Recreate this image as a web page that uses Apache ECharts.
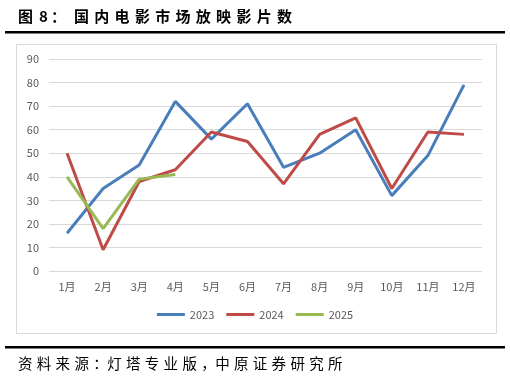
<!DOCTYPE html>
<html><head><meta charset="utf-8">
<script src="https://cdn.jsdelivr.net/npm/echarts@6/dist/echarts.min.js"></script>
<style>html,body{margin:0;padding:0;background:#fff}#c{width:510px;height:378px}</style>
</head><body><div id="c"></div>
<script>
const categories = ['1月','2月','3月','4月','5月','6月','7月','8月','9月','10月','11月','12月'];
const s2023 = [16, 35, 45, 72, 56, 71, 44, 50, 60, 32, 49, 79];
const s2024 = [50, 9, 38, 43, 59, 55, 37, 58, 65, 35, 59, 58];
const s2025 = [40, 18, 39, 41];
const seriesNames = ['2023', '2024', '2025'];
const titleText = '图 8：国内电影市场放映影片数';
const sourceText = '资料来源：灯塔专业版，中原证券研究所';

const CJK = '"Noto Sans CJK SC", "Noto Sans", sans-serif';
const graphics = [];
// border box
graphics.push({type:'rect', shape:{x:16.5,y:44.5,width:480,height:289}, style:{fill:'none', stroke:'#d9d9d9', lineWidth:1}, z:0});
// thick rules
graphics.push({type:'rect', shape:{x:5,y:31,width:500,height:2.5}, style:{fill:'#000'}});
graphics.push({type:'rect', shape:{x:5,y:346,width:500,height:2.5}, style:{fill:'#000'}});
(function(){
  // title glyphs, laid out with the reference's wide spacing
  const tChars = Array.from(titleText);
  let x = 18;
  tChars.forEach((ch) => {
    if (ch === ' ') { x += 6; return; }
    graphics.push({type:'text', x:x, y:16, style:{text:ch, font:'bold 15px ' + CJK, fill:'#000', textVerticalAlign:'middle', verticalAlign:'middle'}});
    if (ch === '8') x += 12; else if (ch === '：') x += 23; else if (ch === '图') x += 15; else x += 20.3;
  });
  // source glyphs
  const sChars = Array.from(sourceText);
  let sx = 18;
  sChars.forEach((ch) => {
    graphics.push({type:'text', x:sx, y:363, style:{text:ch, font:'14.5px ' + CJK, fill:'#000', textVerticalAlign:'middle', verticalAlign:'middle'}});
    sx += (ch === '：' || ch === '，') ? 14 : 18.8;
  });
})();

const chart = echarts.init(document.getElementById('c'), null, {renderer:'canvas'});
const lineS = (name, data, color) => ({
  name, type:'line', data, symbol:'none', smooth:false,
  lineStyle:{color, width:3}, itemStyle:{color}
});
chart.setOption({
  animation:false,
  backgroundColor:'#fff',
  grid:{left:49, right:28, top:59, bottom:107},
  legend:{
    data:seriesNames, bottom:53, left:'center', icon:'rect', itemWidth:28, itemHeight:3, itemGap:12,
    textStyle:{color:'#595959', fontSize:11, fontFamily:CJK}
  },
  xAxis:{
    type:'category', data:categories, boundaryGap:true,
    axisLine:{show:false}, axisTick:{show:false},
    axisLabel:{color:'#595959', fontSize:11, fontFamily:CJK, margin:10}
  },
  yAxis:{
    type:'value', min:0, max:90, interval:10,
    axisLine:{show:false}, axisTick:{show:false},
    axisLabel:{color:'#595959', fontSize:11, fontFamily:CJK, margin:10},
    splitLine:{lineStyle:{color:'#d9d9d9', width:1}}
  },
  series:[
    lineS('2023', s2023, '#4a7ebb'),
    lineS('2024', s2024, '#be4b48'),
    lineS('2025', s2025, '#98b954')
  ],
  graphic:graphics
});
</script></body></html>
